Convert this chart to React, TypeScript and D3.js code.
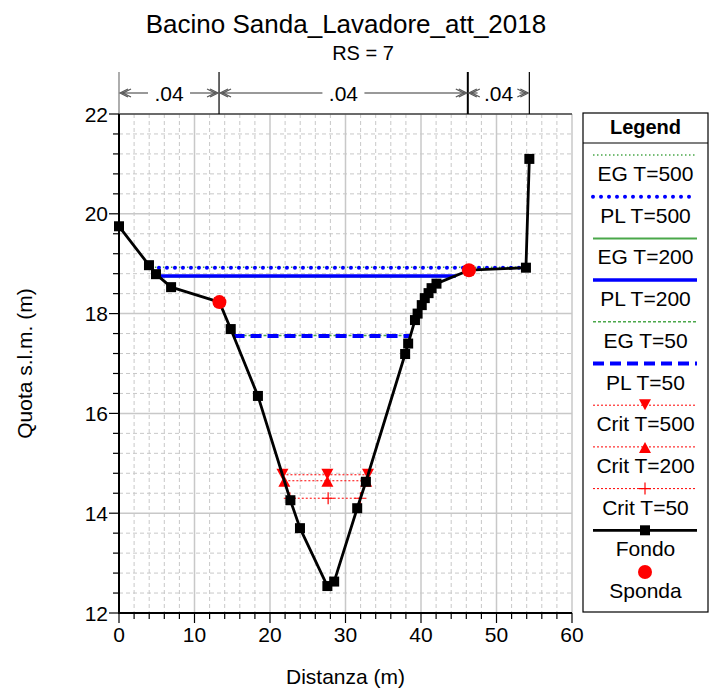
import React from 'react';
import * as d3 from 'd3';

// ground profile (station, elevation)
const fondo: [number, number][] = [
  [0, 19.75], [3.97, 18.97], [4.9, 18.79], [6.9, 18.53], [13.3, 18.23], [14.8, 17.69],
  [18.4, 16.35], [22.7, 14.26], [23.97, 13.7], [27.6, 12.54], [28.5, 12.63], [31.55, 14.1],
  [32.7, 14.63], [37.9, 17.19], [38.3, 17.4], [39.2, 17.87], [39.55, 18.0], [40.1, 18.17],
  [40.5, 18.31], [41.0, 18.41], [41.4, 18.51], [42.05, 18.6], [46.35, 18.87], [53.9, 18.92],
  [54.35, 21.1],
];
const sponde: [number, number][] = [[13.3, 18.23], [46.35, 18.87]];

// water surfaces: [start station, end station, elevation]
const plT500 = [4.23, 53.9, 18.92];
const egT500 = [4.23, 53.9, 18.93];
const plT200 = [5.2, 44.6, 18.755];
const egT200 = [5.2, 44.6, 18.745];
const plT50 = [15.17, 38.59, 17.55];
const egT50 = [15.17, 38.59, 17.56];

// critical depths: marker stations and elevation
const critT500 = { stations: [21.65, 27.6, 32.98], z: 14.77 };
const critT200 = { stations: [21.9, 27.6, 32.74], z: 14.65 };
const critT50 = { stations: [22.62, 27.7, 31.98], z: 14.3 };

// manning n regions
const manningBounds = [0, 13.25, 46.2, 54.35];
const manningValues = ['.04', '.04', '.04'];

const xTicks = [0, 10, 20, 30, 40, 50, 60];
const yTicks = [12, 14, 16, 18, 20, 22];

const title = 'Bacino Sanda_Lavadore_att_2018';
const subtitle = 'RS = 7';
const xLabel = 'Distanza (m)';
const yLabel = 'Quota s.l.m. (m)';

const FONT = '"Liberation Sans", Arial, sans-serif';
const GREEN = '#4aa84a';
const BLUE = '#0000ff';
const RED = '#ff0000';

const W = 715;
const H = 697;
const plot = { left: 119, right: 572, top: 114, bottom: 613 };

const x = d3.scaleLinear().domain([0, 60]).range([plot.left, plot.right]);
const y = d3.scaleLinear().domain([12, 22]).range([plot.bottom, plot.top]);

const xMinor = d3.range(0, 60.001, 2);
const yMinor = d3.range(12, 22.001, 0.4);

type Style = { stroke: string; width: number; dash?: string; cap?: string };
const styles: Record<string, Style> = {
  egT500: { stroke: GREEN, width: 1.5, dash: '1.5,2.5' },
  plT500: { stroke: BLUE, width: 4, dash: '0,8', cap: 'round' },
  egT200: { stroke: GREEN, width: 2 },
  plT200: { stroke: BLUE, width: 3.5 },
  egT50: { stroke: GREEN, width: 1.5, dash: '3,2' },
  plT50: { stroke: BLUE, width: 4, dash: '11,6' },
  crit: { stroke: RED, width: 1, dash: '2,2' },
  fondo: { stroke: '#000', width: 2.8 },
};

const Marker: React.FC<{ kind: string; cx: number; cy: number }> = ({ kind, cx, cy }) => {
  if (kind === 'down') {
    return <path d={`M${cx - 6},${cy - 6}L${cx + 6},${cy - 6}L${cx},${cy + 5}Z`} fill={RED} />;
  }
  if (kind === 'up') {
    return <path d={`M${cx - 6},${cy + 6}L${cx + 6},${cy + 6}L${cx},${cy - 5}Z`} fill={RED} />;
  }
  if (kind === 'plus') {
    return <path d={`M${cx - 6},${cy}H${cx + 6}M${cx},${cy - 6}V${cy + 6}`} stroke={RED} strokeWidth={1.2} />;
  }
  if (kind === 'square') {
    return <rect x={cx - 5} y={cy - 5} width={10} height={10} fill="#000" />;
  }
  return <circle cx={cx} cy={cy} r={7} fill={RED} />;
};

const StyledLine: React.FC<{ s: Style; x1: number; x2: number; y1: number; y2: number }> = ({ s, x1, x2, y1, y2 }) => (
  <line x1={x1} x2={x2} y1={y1} y2={y2} stroke={s.stroke} strokeWidth={s.width}
    strokeDasharray={s.dash} strokeLinecap={(s.cap as any) || 'butt'} />
);

const legendItems: { label: string; style?: Style; marker?: string }[] = [
  { label: 'EG T=500', style: styles.egT500 },
  { label: 'PL T=500', style: styles.plT500 },
  { label: 'EG T=200', style: styles.egT200 },
  { label: 'PL T=200', style: styles.plT200 },
  { label: 'EG T=50', style: styles.egT50 },
  { label: 'PL T=50', style: styles.plT50 },
  { label: 'Crit T=500', style: styles.crit, marker: 'down' },
  { label: 'Crit T=200', style: styles.crit, marker: 'up' },
  { label: 'Crit T=50', style: styles.crit, marker: 'plus' },
  { label: 'Fondo', style: styles.fondo, marker: 'square' },
  { label: 'Sponda', marker: 'circle' },
];

const Chevron: React.FC<{ at: number; dir: number }> = ({ at, dir }) => {
  const yc = 93;
  const p = (o: number) => `M${at + dir * (o + 8)},${yc - 4}L${at + dir * o},${yc}L${at + dir * (o + 8)},${yc + 4}`;
  return <path d={p(1) + p(4)} fill="none" stroke="#555" strokeWidth={1.2} />;
};

export default function App() {
  const line = d3.line<[number, number]>().x(d => x(d[0])).y(d => y(d[1]));
  const surfaces: [number[], Style][] = [
    [egT500, styles.egT500], [egT200, styles.egT200], [egT50, styles.egT50],
    [plT500, styles.plT500], [plT200, styles.plT200], [plT50, styles.plT50],
  ];
  const crits: [typeof critT500, string][] = [[critT500, 'down'], [critT200, 'up'], [critT50, 'plus']];

  return (
    <svg width={W} height={H} style={{ position: 'absolute', left: 0, top: 0, background: '#fff' }} fontFamily={FONT}>
      {/* titles */}
      <text x={346} y={33} textAnchor="middle" fontSize={26}>{title}</text>
      <text x={363} y={60} textAnchor="middle" fontSize={20}>{subtitle}</text>

      {/* grid */}
      {xMinor.filter(v => v % 10 !== 0).map(v => (
        <line key={'xm' + v} x1={x(v)} x2={x(v)} y1={plot.top} y2={plot.bottom} stroke="#c8c8c8" strokeDasharray="4,3" />
      ))}
      {yMinor.filter(v => Math.abs(v / 2 - Math.round(v / 2)) > 0.01).map(v => (
        <line key={'ym' + v} x1={plot.left} x2={plot.right} y1={y(v)} y2={y(v)} stroke="#c8c8c8" strokeDasharray="4,3" />
      ))}
      {xTicks.map(v => (
        <line key={'xg' + v} x1={x(v)} x2={x(v)} y1={plot.top} y2={plot.bottom} stroke="#c8c8c8" strokeWidth={1.5} />
      ))}
      {yTicks.map(v => (
        <line key={'yg' + v} x1={plot.left} x2={plot.right} y1={y(v)} y2={y(v)} stroke="#c8c8c8" strokeWidth={1.5} />
      ))}
      <line x1={plot.left} x2={plot.right} y1={plot.top} y2={plot.top} stroke="#000" strokeWidth={1} />

      {/* manning n bar */}
      {manningBounds.map((b, i) => (
        <line key={'mb' + i} x1={x(b)} x2={x(b)} y1={72} y2={plot.top}
          stroke={i === 0 ? '#777' : '#000'} strokeWidth={i === 2 ? 2 : 1.2} />
      ))}
      {manningValues.map((n, i) => {
        const a = x(manningBounds[i]);
        const b = x(manningBounds[i + 1]);
        const c = (a + b) / 2;
        return (
          <g key={'mv' + i}>
            <line x1={a + 2} x2={c - 21} y1={93} y2={93} stroke="#777" strokeWidth={1.5} />
            <line x1={c + 21} x2={b - 2} y1={93} y2={93} stroke="#777" strokeWidth={1.5} />
            <Chevron at={a} dir={1} />
            <Chevron at={b} dir={-1} />
            <text x={c} y={100.5} textAnchor="middle" fontSize={21}>{n}</text>
          </g>
        );
      })}

      {/* water surfaces */}
      {surfaces.map(([s, st], i) => (
        <StyledLine key={'ws' + i} s={st} x1={x(s[0])} x2={x(s[1])} y1={y(s[2])} y2={y(s[2])} />
      ))}

      {/* critical depths */}
      {crits.map(([c, m], i) => (
        <g key={'cr' + i}>
          <StyledLine s={styles.crit} x1={x(c.stations[0])} x2={x(c.stations[2])} y1={y(c.z)} y2={y(c.z)} />
          {c.stations.map((st, j) => <Marker key={j} kind={m} cx={x(st)} cy={y(c.z)} />)}
        </g>
      ))}

      {/* ground */}
      <path d={line(fondo) || ''} fill="none" stroke="#000" strokeWidth={2.8} strokeLinejoin="round" />
      {fondo.map((d, i) => <Marker key={'f' + i} kind="square" cx={x(d[0])} cy={y(d[1])} />)}
      {sponde.map((d, i) => <Marker key={'s' + i} kind="circle" cx={x(d[0])} cy={y(d[1])} />)}

      {/* axes */}
      <line x1={plot.left} x2={plot.left} y1={plot.top} y2={plot.bottom + 1} stroke="#000" strokeWidth={2} />
      <line x1={plot.left - 1} x2={plot.right} y1={plot.bottom} y2={plot.bottom} stroke="#000" strokeWidth={2} />
      {xMinor.map(v => (
        <line key={'xt' + v} x1={x(v)} x2={x(v)} y1={plot.bottom} y2={plot.bottom + (v % 10 === 0 ? 10 : 6)} stroke="#000" strokeWidth={1.2} />
      ))}
      {yMinor.map(v => (
        <line key={'yt' + v} x1={plot.left} x2={plot.left - (Math.abs(v / 2 - Math.round(v / 2)) < 0.01 ? 10 : 6)} y1={y(v)} y2={y(v)} stroke="#000" strokeWidth={1.2} />
      ))}
      {xTicks.map(v => (
        <text key={'xl' + v} x={x(v)} y={642} textAnchor="middle" fontSize={21}>{v}</text>
      ))}
      {yTicks.map(v => (
        <text key={'yl' + v} x={plot.left - 11} y={y(v) + 7.5} textAnchor="end" fontSize={21}>{v}</text>
      ))}
      <text x={(plot.left + plot.right) / 2} y={684} textAnchor="middle" fontSize={21}>{xLabel}</text>
      <text transform={`translate(32,${(plot.top + plot.bottom) / 2}) rotate(-90)`} textAnchor="middle" fontSize={21}>{yLabel}</text>

      {/* legend */}
      <rect x={583} y={113} width={125} height={499} fill="#fff" stroke="#000" strokeWidth={1.2} />
      <line x1={583} x2={708} y1={143} y2={143} stroke="#000" strokeWidth={1.2} />
      <text x={645.5} y={134} textAnchor="middle" fontSize={20} fontWeight="bold">Legend</text>
      {legendItems.map((it, i) => {
        const ly = 155 + i * 41.7;
        return (
          <g key={'lg' + i}>
            {it.style && <StyledLine s={it.style} x1={593} x2={697} y1={ly} y2={ly} />}
            {it.marker && <Marker kind={it.marker} cx={645} cy={ly} />}
            <text x={645.5} y={ly + 26} textAnchor="middle" fontSize={21}>{it.label}</text>
          </g>
        );
      })}
    </svg>
  );
}
